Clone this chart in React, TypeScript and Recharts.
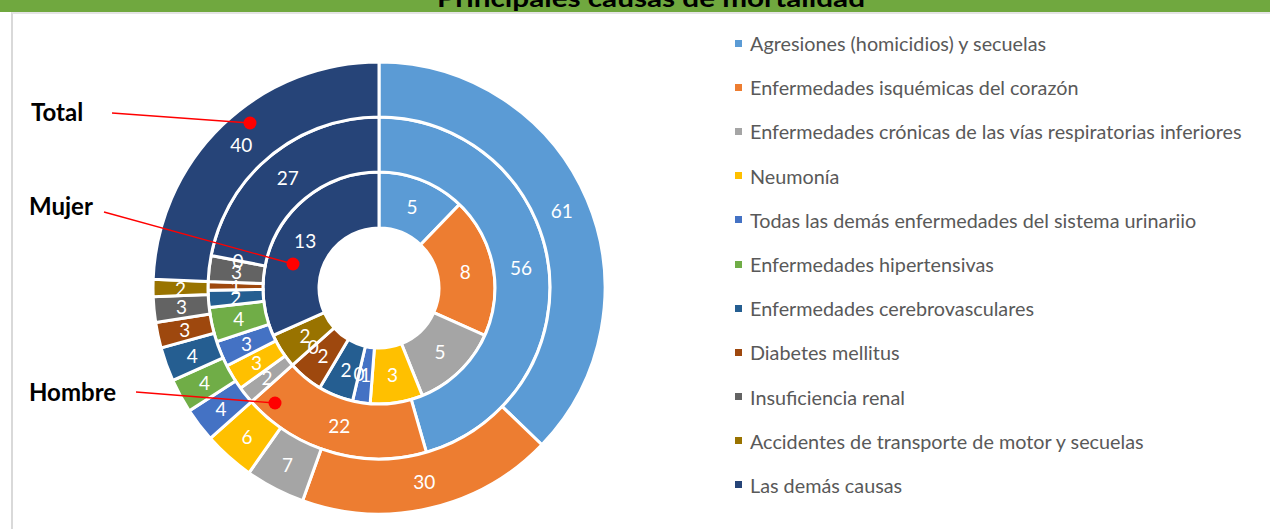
import { PieChart, Pie, Cell } from "recharts";

const categories = [
  "Agresiones (homicidios) y secuelas",
  "Enfermedades isquémicas del corazón",
  "Enfermedades crónicas de las vías respiratorias inferiores",
  "Neumonía",
  "Todas las demás enfermedades del sistema urinariio",
  "Enfermedades hipertensivas",
  "Enfermedades cerebrovasculares",
  "Diabetes mellitus",
  "Insuficiencia renal",
  "Accidentes de transporte de motor y secuelas",
  "Las demás causas",
];

const mujer = [5, 8, 5, 3, 1, 0, 2, 2, 0, 2, 13];
const hombre = [56, 22, 2, 3, 3, 4, 2, 1, 3, 0, 27];
const total = [61, 30, 7, 6, 4, 4, 4, 3, 3, 2, 40];

const colors = [
  "#5B9BD5",
  "#ED7D31",
  "#A5A5A5",
  "#FFC000",
  "#4472C4",
  "#70AD47",
  "#255E91",
  "#9E480E",
  "#636363",
  "#997300",
  "#264478",
];

const rows = categories.map((name, i) => ({
  name,
  mujer: mujer[i],
  hombre: hombre[i],
  total: total[i],
}));

const FONT = "Lato, 'Open Sans', sans-serif";
const RAD = Math.PI / 180;

function ringLabel(props: any) {
  const { cx, cy, midAngle, innerRadius, outerRadius, value } = props;
  const r = (innerRadius + outerRadius) / 2;
  const x = cx + r * Math.cos(-midAngle * RAD);
  const y = cy + r * Math.sin(-midAngle * RAD);
  return (
    <text
      x={x}
      y={y}
      fill="#fff"
      textAnchor="middle"
      dominantBaseline="central"
      fontSize={19}
      fontFamily={FONT}
    >
      {value}
    </text>
  );
}

const rings = [
  { key: "mujer", inner: 60, outer: 116 },
  { key: "hombre", inner: 116, outer: 171 },
  { key: "total", inner: 171, outer: 226 },
];

const callouts = [
  { text: "Total", tx: 31, ty: 121, x1: 112, y1: 113, x2: 250, y2: 123 },
  { text: "Mujer", tx: 29, ty: 215, x1: 104, y1: 212, x2: 293, y2: 264 },
  { text: "Hombre", tx: 29, ty: 401, x1: 136, y1: 392, x2: 275, y2: 403 },
];

export default function App() {
  return (
    <div
      style={{
        position: "absolute",
        left: 0,
        top: 0,
        width: 1270,
        height: 529,
        background: "#fff",
        overflow: "hidden",
        fontFamily: FONT,
      }}
    >
      {/* title bar, text cut off at the top like the source */}
      <div
        style={{
          position: "absolute",
          left: 0,
          top: 0,
          width: 1270,
          height: 12,
          background: "#70A83F",
          overflow: "hidden",
        }}
      >
        <svg width={1270} height={12} style={{ position: "absolute", left: 0, top: 0 }}>
          <text
            x={651}
            y={7}
            textAnchor="middle"
            fontSize={24}
            fontWeight={700}
            fill="#000"
            fontFamily={FONT}
            textLength={428}
            lengthAdjust="spacingAndGlyphs"
          >
            Principales causas de mortalidad
          </text>
        </svg>
      </div>
      <div
        style={{
          position: "absolute",
          left: 11,
          top: 12,
          width: 1270,
          height: 529,
          borderLeft: "2px solid #D9D9D9",
          borderTop: "2px solid #E4E4E4",
        }}
      />

      <div style={{ position: "absolute", left: 0, top: 0 }}>
        <PieChart width={1270} height={529} margin={{ top: 0, right: 0, bottom: 0, left: 0 }}>
          {rings.map((ring) => (
            <Pie
              key={ring.key}
              data={rows}
              dataKey={ring.key}
              nameKey="name"
              cx={379}
              cy={288}
              innerRadius={ring.inner}
              outerRadius={ring.outer}
              startAngle={90}
              endAngle={-270}
              stroke="#fff"
              strokeWidth={3}
              label={ringLabel}
              labelLine={false}
              isAnimationActive={false}
            >
              {rows.map((r, i) => (
                <Cell key={r.name} fill={colors[i]} />
              ))}
            </Pie>
          ))}
        </PieChart>
      </div>

      {/* series callouts */}
      <svg
        width={1270}
        height={529}
        style={{ position: "absolute", left: 0, top: 0, pointerEvents: "none" }}
      >
        {callouts.map((c) => (
          <g key={c.text}>
            <text x={c.tx} y={c.ty} fontSize={24} fontWeight={700} fill="#000" fontFamily={FONT}>
              {c.text}
            </text>
            <line x1={c.x1} y1={c.y1} x2={c.x2} y2={c.y2} stroke="#FF0000" strokeWidth={1.3} />
            <circle cx={c.x2} cy={c.y2} r={6.5} fill="#FF0000" />
          </g>
        ))}
      </svg>

      {/* legend */}
      <div style={{ position: "absolute", left: 735, top: 21 }}>
        {categories.map((name, i) => (
          <div
            key={name}
            style={{
              display: "flex",
              alignItems: "center",
              height: 44.2,
              color: "#595959",
              fontSize: 19.8,
              whiteSpace: "nowrap",
            }}
          >
            <span
              style={{
                display: "inline-block",
                width: 7,
                height: 7,
                background: colors[i],
                marginRight: 8,
              }}
            />
            {name}
          </div>
        ))}
      </div>
    </div>
  );
}
